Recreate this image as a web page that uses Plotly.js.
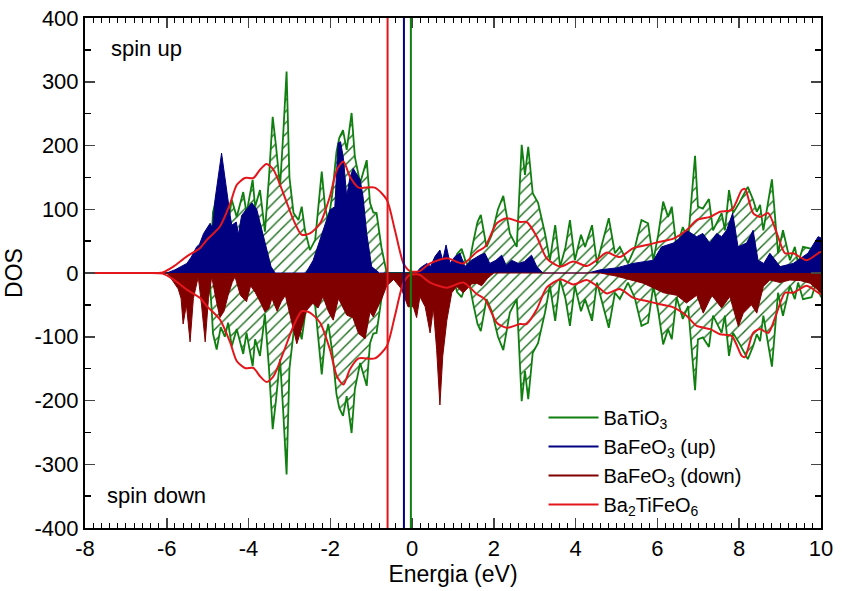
<!DOCTYPE html>
<html>
<head>
<meta charset="utf-8">
<script src="https://cdn.plot.ly/plotly-3.0.1.min.js"></script>
<style>
  html, body { margin: 0; padding: 0; background: #fff; }
  #grafico { width: 842px; height: 591px; }
</style>
</head>
<body>
<div id="grafico"></div>
<script>
// BaTiO3 (simetrico: spin down = -spin up)
var xBaTiO3 = [-8, -6, -4.96, -4.9, -4.87, -4.78, -4.68, -4.58, -4.5, -4.41, -4.29, -4.13, -4.05, -3.9, -3.84,
  -3.72, -3.6, -3.5, -3.41, -3.33, -3.23, -3.15, -3.07, -3.0, -2.9, -2.78, -2.7, -2.62, -2.5, -2.37, -2.21,
  -2.13, -2.05, -1.95, -1.85, -1.78, -1.69, -1.6, -1.48, -1.4, -1.27, -1.11, -1.03, -0.95, -0.87, -0.75,
  -0.62, 0.95, 1.0, 1.1, 1.21, 1.3, 1.38, 1.5, 1.6, 1.68, 1.82, 1.95, 2.1, 2.23, 2.39, 2.56, 2.68, 2.76,
  2.84, 2.95, 3.08, 3.25, 3.37, 3.5, 3.62, 3.75, 3.86, 3.98, 4.13, 4.23, 4.4, 4.52, 4.65, 4.81, 4.96, 5.08,
  5.28, 5.45, 5.61, 5.77, 5.9, 6.02, 6.14, 6.26, 6.35, 6.47, 6.62, 6.75, 6.92, 6.99, 7.11, 7.26, 7.36,
  7.57, 7.65, 7.75, 7.85, 8.0, 8.21, 8.34, 8.43, 8.51, 8.59, 8.8, 8.95, 9.07, 9.24, 9.36, 9.44, 9.56,
  9.77, 9.88, 10];
var yBaTiO3 = [0, 0, 0, 60, 95, 120, 85, 100, 78, 115, 88, 127, 94, 146, 104,
  130, 65, 150, 245, 200, 135, 220, 316, 150, 94, 83, 104, 67, 36, 52, 159,
  104, 80, 125, 190, 212, 224, 193, 251, 182, 141, 177, 110, 95, 94, 40,
  0, 0, 5, 30, 38, 20, 10, 50, 80, 91, 41, 60, 100, 121, 62, 41, 201, 154,
  198, 125, 110, 62, 20, 75, 10, 40, 83, 20, 60, 41, 75, 15, 45, 86, 31, 41,
  15, 40, 83, 78, 20, 60, 112, 88, 104, 38, 72, 52, 184, 104, 101, 116, 67,
  94, 67, 130, 94, 110, 135, 115, 96, 107, 67, 147, 31, 67, 20, 41, 15, 41,
  38, 15, 38];

// BaFeO3 spin up
var xFeUp = [-8, -6, -5.8, -5.51, -5.4, -5.27, -5.2, -5.1, -4.94, -4.88, -4.82, -4.72, -4.66, -4.6, -4.53,
  -4.45, -4.41, -4.3, -4.25, -4.17, -4.05, -3.92, -3.8, -3.72, -3.56, -3.45, -3.35, -2.6, -2.42, -2.25,
  -2.01, -1.89, -1.81, -1.75, -1.68, -1.6, -1.52, -1.44, -1.27, -1.2, -1.11, -0.99, -0.87, -0.8, 0.1,
  0.2, 0.36, 0.45, 0.56, 0.68, 0.75, 0.83, 0.93, 1.05, 1.17, 1.29, 1.45, 1.66, 1.78, 1.9, 2.05, 2.19,
  2.3, 2.43, 2.6, 2.75, 2.92, 3.05, 3.2, 4.3, 4.6, 5.0, 5.4, 5.9, 6.1, 6.39, 6.55, 6.71, 6.96, 7.11,
  7.28, 7.45, 7.57, 7.69, 7.84, 7.97, 8.18, 8.34, 8.46, 8.6, 8.75, 9.0, 9.32, 9.68, 9.93, 10];
var yFeUp = [0, 0, 5, 15, 25, 41, 45, 62, 78, 70, 115, 160, 188, 160, 125,
  90, 75, 80, 60, 90, 100, 110, 100, 80, 36, 10, 0, 0, 20, 52,
  99, 104, 204, 206, 180, 120, 150, 164, 146, 120, 62, 10, 3, 0, 0,
  8, 15, 10, 26, 36, 20, 44, 15, 26, 31, 10, 20, 28, 31, 15, 20, 28,
  12, 20, 15, 18, 28, 10, 0, 0, 5, 8, 15, 20, 41, 47, 55, 67, 57, 62,
  47, 62, 57, 67, 94, 41, 47, 67, 20, 15, 31, 10, 15, 31, 57, 55];

// BaFeO3 spin down
var xFeDown = [-8, -6, -5.9, -5.72, -5.65, -5.6, -5.52, -5.43, -5.35, -5.23, -5.15, -5.06, -4.98, -4.9,
  -4.8, -4.7, -4.6, -4.5, -4.4, -4.33, -4.2, -4.05, -3.95, -3.84, -3.68, -3.6, -3.5, -3.43, -3.3, -3.2,
  -3.1, -2.9, -2.82, -2.7, -2.6, -2.42, -2.3, -2.18, -2.05, -1.93, -1.8, -1.6, -1.45, -1.31, -1.15,
  -1.03, -0.95, -0.85, -0.74, -0.62, -0.45, -0.26, -0.17, -0.1, 0.03, 0.11, 0.19, 0.32, 0.44, 0.52,
  0.6, 0.68, 0.75, 0.85, 0.97, 1.09, 1.25, 1.46, 1.58, 1.7, 1.85, 2.0, 4.6, 5.0, 5.65, 6.15, 6.47,
  6.71, 6.96, 7.12, 7.33, 7.57, 7.77, 7.98, 8.1, 8.3, 8.43, 8.59, 8.75, 9.0, 9.24, 9.5, 9.73, 9.98, 10];
var yFeDown = [0, 0, -8, -25, -40, -80, -50, -108, -40, -6, -50, -108, -40, -6,
  -40, -70, -60, -35, -15, -6, -35, -45, -20, -30, -50, -61, -55, -40, -60, -45,
  -35, -87, -111, -87, -60, -47, -55, -37, -60, -74, -40, -66, -70, -95, -103,
  -61, -69, -55, -40, -20, -10, -25, -40, -53, -53, -70, -37, -53, -94, -55,
  -120, -207, -130, -74, -31, -21, -31, -17, -16, -20, -8, 0, 0, -5, -16, -31, -35,
  -47, -35, -63, -35, -55, -37, -84, -63, -50, -63, -21, -11, -15, -11, -12, -16, -31, -31];

// Ba2TiFeO6 (simetrico)
var xBa2 = [-8, -7, -6.5, -6.1, -5.84, -5.51, -5.19, -5.02, -4.7, -4.45, -4.29, -4.09, -3.88, -3.72, -3.56, -3.39,
  -3.15, -2.9, -2.7, -2.5, -2.25, -2.01, -1.84, -1.68, -1.52, -1.31, -0.91, -0.62, -0.42, -0.21, -0.05,
  0.1, 0.19, 0.44, 0.85, 1.25, 1.58, 1.78, 2.07, 2.31, 2.64, 2.8, 3.05, 3.29, 3.62, 3.94, 4.27, 4.51,
  4.76, 5.08, 5.41, 5.74, 6.06, 6.39, 6.71, 6.96, 7.29, 7.53, 7.82, 8.06, 8.14, 8.34, 8.51, 8.71, 8.92,
  9.12, 9.32, 9.65, 9.98, 10];
var yBa2 = [0, 0, 0, 1, 10, 26, 39, 52, 73, 109, 138, 149, 149, 162, 171, 162,
  125, 83, 60, 62, 78, 120, 162, 175, 151, 134, 134, 115, 67, 15, 3,
  2, 3, 15, 23, 15, 33, 41, 78, 86, 80, 80, 57, 23, 10, 18, 11, 20,
  32, 25, 39, 44, 49, 54, 67, 83, 88, 96, 99, 130, 132, 94, 88, 94, 62,
  31, 31, 20, 33, 33];

// niveis verticais (eV)
var nivelBa2 = -0.6;
var nivelFe = -0.2;
var nivelTi = -0.03;

var nomes = ['BaTiO<sub>3</sub>', 'BaFeO<sub>3</sub> (up)', 'BaFeO<sub>3</sub> (down)', 'Ba<sub>2</sub>TiFeO<sub>6</sub>'];

var xTicks = [-8, -6, -4, -2, 0, 2, 4, 6, 8, 10];
var xTickText = ['-8', '-6', '-4', '-2', '0', '2', '4', '6', '8', '10'];
var yTicks = [-400, -300, -200, -100, 0, 100, 200, 300, 400];
var yTickText = ['-400', '-300', '-200', '-100', '0', '100', '200', '300', '400'];

var verde = '#0f7f0f';
var azul = '#000080';
var vinho = '#800000';
var vermelho = '#e3161c';

function neg(arr) { return arr.map(function (v) { return -v; }); }

var hachura = { shape: '/', fgcolor: '#1f6f1f', bgcolor: 'rgba(255,255,255,0)', size: 8, solidity: 0.18 };

var tiUp = {
  x: xBaTiO3, y: yBaTiO3, type: 'scatter', mode: 'lines', fill: 'tozeroy',
  fillcolor: 'rgba(255,255,255,0)', fillpattern: hachura,
  line: { color: verde, width: 1.8 }, showlegend: false, hoverinfo: 'skip'
};
var tiDown = {
  x: xBaTiO3, y: neg(yBaTiO3), type: 'scatter', mode: 'lines', fill: 'tozeroy',
  fillcolor: 'rgba(255,255,255,0)', fillpattern: hachura,
  line: { color: verde, width: 1.8 }, showlegend: false, hoverinfo: 'skip'
};
var feUp = {
  x: xFeUp, y: yFeUp, type: 'scatter', mode: 'lines', fill: 'tozeroy',
  fillcolor: azul, line: { color: azul, width: 1 }, showlegend: false, hoverinfo: 'skip'
};
var feDown = {
  x: xFeDown, y: yFeDown, type: 'scatter', mode: 'lines', fill: 'tozeroy',
  fillcolor: vinho, line: { color: vinho, width: 1 }, showlegend: false, hoverinfo: 'skip'
};
var ba2Up = {
  x: xBa2, y: yBa2, type: 'scatter', mode: 'lines',
  line: { color: vermelho, width: 2, shape: 'spline', smoothing: 0.7 }, showlegend: false, hoverinfo: 'skip'
};
var ba2Down = {
  x: xBa2, y: neg(yBa2), type: 'scatter', mode: 'lines',
  line: { color: vermelho, width: 2, shape: 'spline', smoothing: 0.7 }, showlegend: false, hoverinfo: 'skip'
};

// entradas so para a legenda (linhas)
var cores = [verde, azul, vinho, vermelho];
var legenda = nomes.map(function (n, i) {
  return { x: [null], y: [null], type: 'scatter', mode: 'lines', name: n, line: { color: cores[i], width: 2 } };
});

function vline(x, cor) {
  return { type: 'line', xref: 'x', yref: 'paper', x0: x, x1: x, y0: 0, y1: 1, line: { color: cor, width: 2 } };
}

var familia = 'Arial, "Liberation Sans", sans-serif';
var fonteTick = { family: familia, size: 22, color: '#000' };
var fonteTitulo = { family: familia, size: 23, color: '#000' };

var layout = {
  width: 842, height: 591,
  margin: { l: 85, r: 21, t: 18, b: 63 },
  paper_bgcolor: '#fff', plot_bgcolor: '#fff',
  font: fonteTick,
  showlegend: true,
  legend: {
    x: 0.623, y: 0.255, xanchor: 'left', yanchor: 'top',
    bgcolor: 'rgba(255,255,255,0)', font: { family: familia, size: 20, color: '#000' },
    tracegroupgap: 0, itemwidth: 50
  },
  xaxis: {
    range: [-8, 10], tickvals: xTicks, ticktext: xTickText,
    ticks: 'inside', ticklen: 10, tickwidth: 1.5, mirror: 'ticks',
    showline: true, linecolor: '#000', linewidth: 2,
    showgrid: false, zeroline: false,
    minor: { dtick: 0.2, ticks: 'inside', ticklen: 5, tickwidth: 1, tickcolor: '#000', showgrid: false },
    title: { text: 'Energia (eV)', font: fonteTitulo, standoff: 4 },
    tickfont: fonteTick
  },
  yaxis: {
    range: [-400, 400], tickvals: yTicks, ticktext: yTickText,
    ticks: 'inside', ticklen: 10, tickwidth: 1.5, mirror: 'ticks',
    showline: true, linecolor: '#000', linewidth: 2,
    showgrid: false, zeroline: false,
    minor: { dtick: 50, ticks: 'inside', ticklen: 6, tickwidth: 1.5, tickcolor: '#000', showgrid: false },
    title: { text: 'DOS', font: fonteTitulo, standoff: 6 },
    tickfont: fonteTick
  },
  shapes: [vline(nivelBa2, vermelho), vline(nivelFe, azul), vline(nivelTi, verde)],
  annotations: [
    { text: 'spin up', xref: 'paper', yref: 'paper', x: 0.033, y: 0.94, xanchor: 'left', yanchor: 'middle', showarrow: false, font: { family: familia, size: 22, color: '#000' } },
    { text: 'spin down', xref: 'paper', yref: 'paper', x: 0.027, y: 0.064, xanchor: 'left', yanchor: 'middle', showarrow: false, font: { family: familia, size: 22, color: '#000' } }
  ]
};

Plotly.newPlot('grafico', [tiUp, tiDown, feUp, feDown, ba2Up, ba2Down].concat(legenda), layout, { staticPlot: true });
</script>
</body>
</html>
